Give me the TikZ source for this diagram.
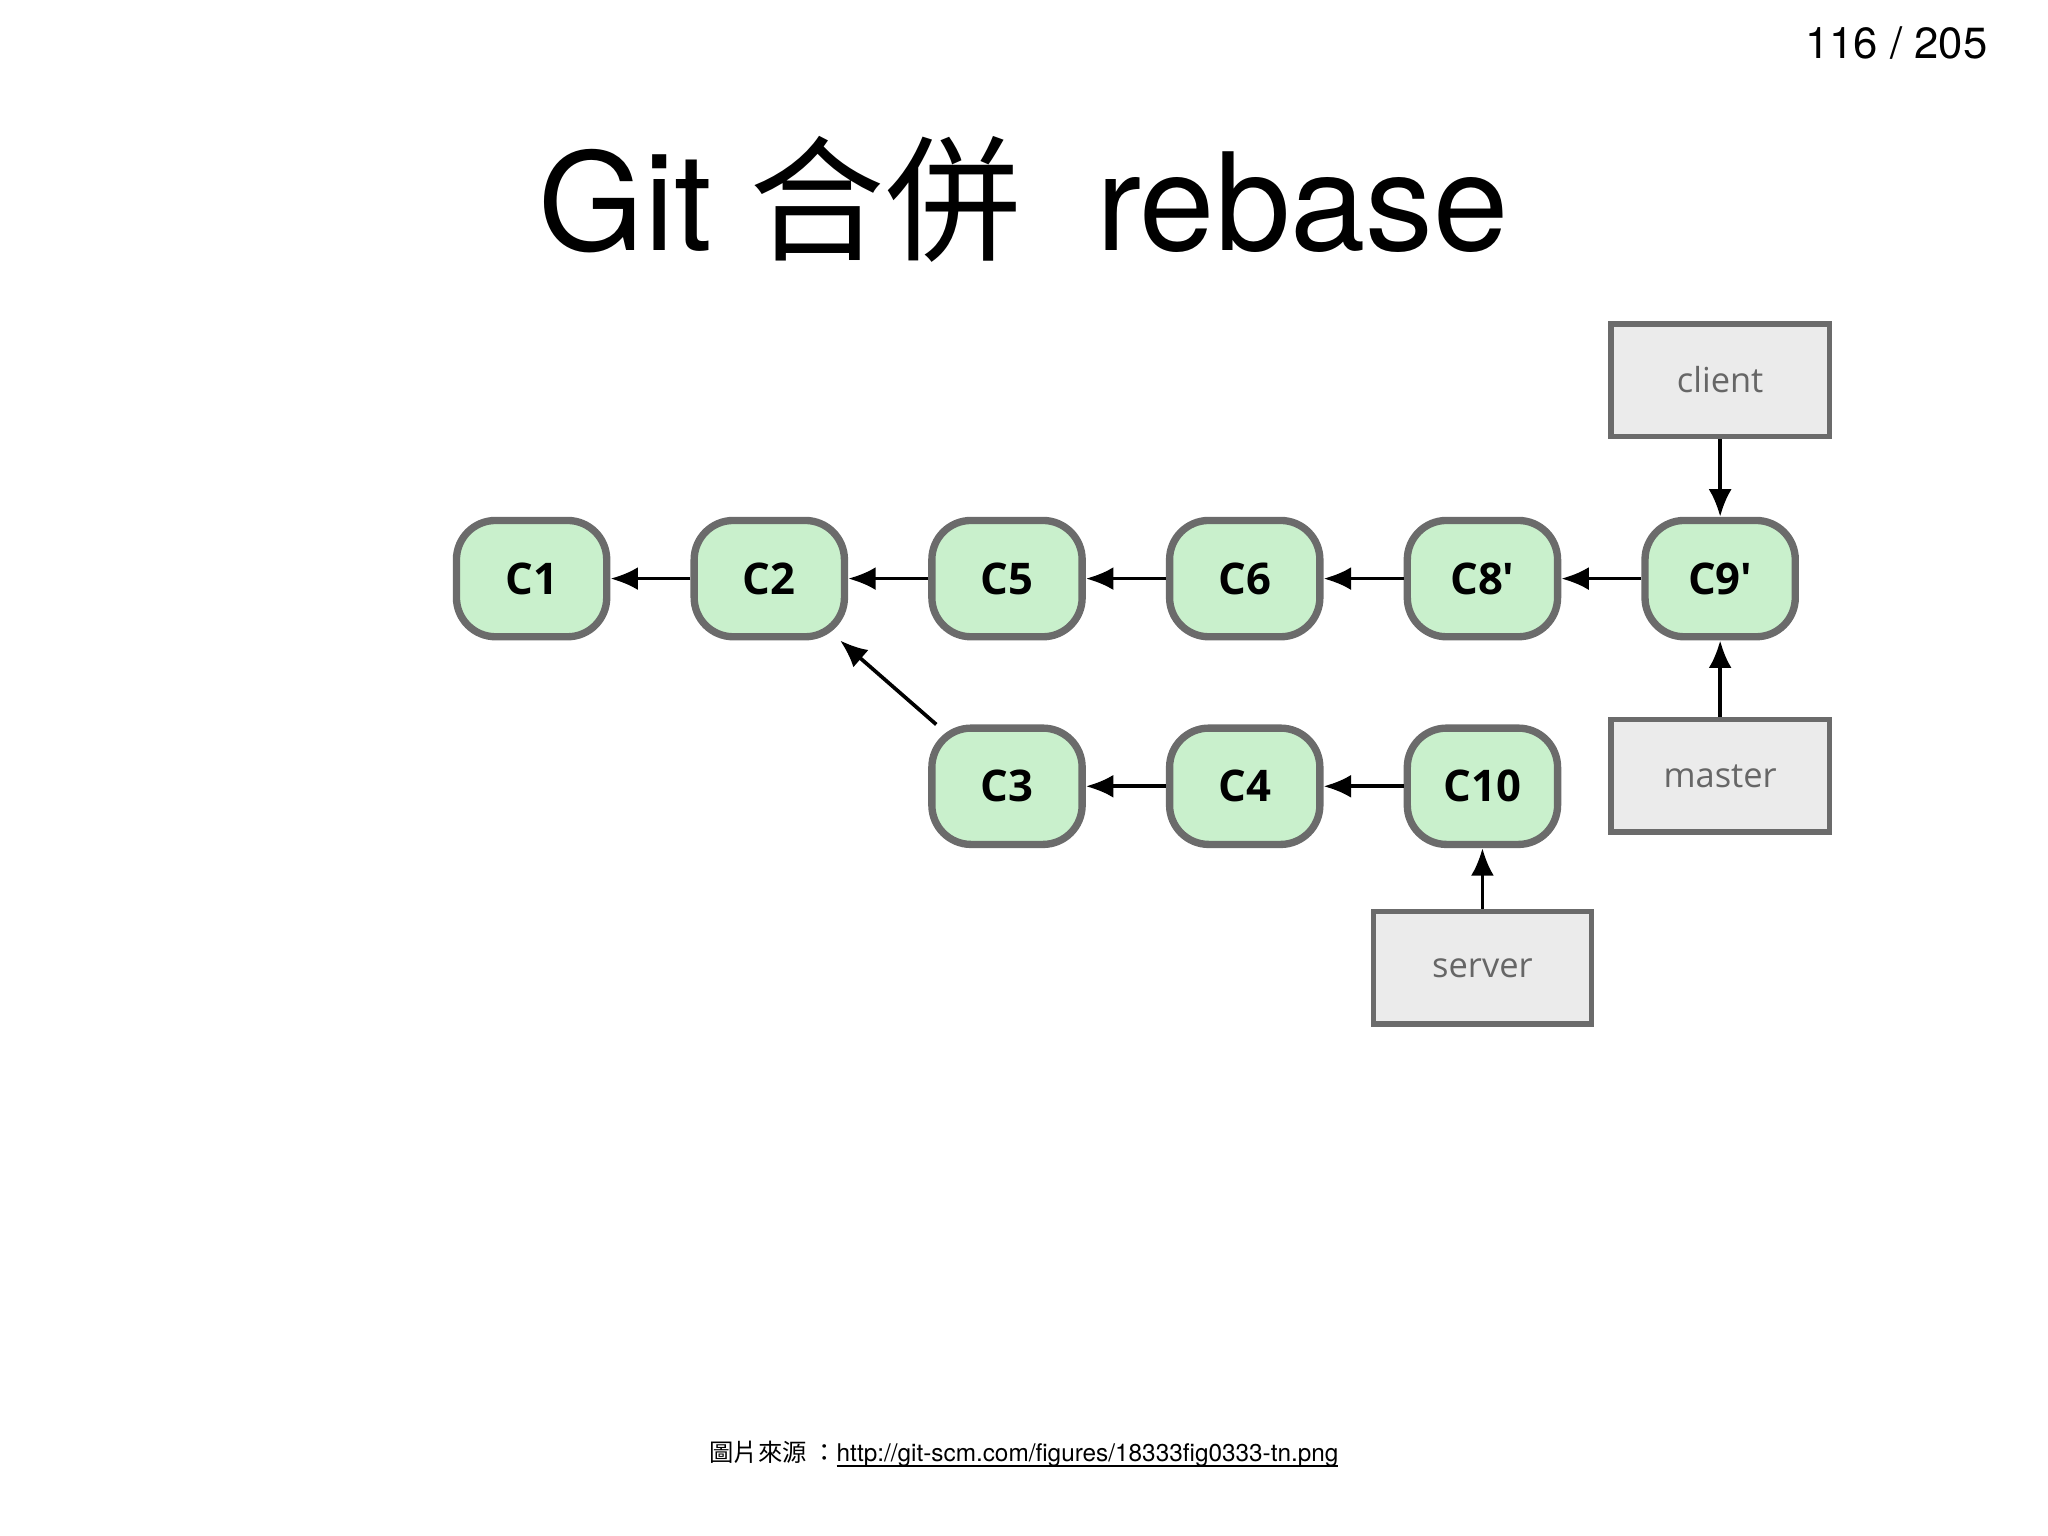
\documentclass[tikz,border=0pt]{standalone}
\usepackage{fontspec}
\setmainfont{TeX Gyre Heros}
\newfontfamily\cjk{Noto Sans CJK TC}
\newfontfamily\lbl{Open Sans}
\usetikzlibrary{arrows.meta}
\definecolor{cgreen}{HTML}{C9F0CC}
\definecolor{cborder}{HTML}{6B6B6B}
\definecolor{rgray}{HTML}{EBEBEB}
\tikzset{
  commit/.style={draw=cborder, line width=1.6pt, fill=cgreen, rounded corners=0.3cm,
    minimum width=1.15cm, minimum height=0.89cm, font=\lbl\bfseries\fontsize{9.5}{11}\selectfont},
  ref/.style={draw=cborder, line width=1.2pt, fill=rgray,
    minimum width=1.67cm, minimum height=0.86cm, text=black!60, font=\lbl\fontsize{7.5}{9}\selectfont},
  link/.style={-{Latex[length=6pt,width=5pt]}, line width=0.8pt}
}
\begin{document}
\begin{tikzpicture}[x=0.01cm, y=-0.01cm]
	\useasboundingbox (0,0) rectangle (1568,1176);
	\node[anchor=east, font=\fontsize{9.5}{11}\selectfont] (page) at (1534,33) {116 / 205};
	\node[font=\fontsize{29.5}{34}\selectfont] (title) at (784,153) {Git {\cjk 合併}\ \ rebase};
	% commits
	\node[commit] (c1) at (407,443) {C1};
	\node[commit] (c2) at (589,443) {C2};
	\node[commit] (c5) at (771,443) {C5};
	\node[commit] (c6) at (953,443) {C6};
	\node[commit] (c8) at (1135,443) {C8'};
	\node[commit] (c9) at (1317,443) {C9'};
	\node[commit] (c3) at (771,602) {C3};
	\node[commit] (c4) at (953,602) {C4};
	\node[commit] (c10) at (1135,602) {C10};
	% refs
	\node[ref] (client) at (1317,291) {client};
	\node[ref] (master) at (1317,594) {master};
	\node[ref] (server) at (1135,741) {server};
	\draw[link] (c2) -- (c1);
	\draw[link] (c5) -- (c2);
	\draw[link] (c6) -- (c5);
	\draw[link] (c8) -- (c6);
	\draw[link] (c9) -- (c8);
	\draw[link] (c3) -- (c2);
	\draw[link] (c4) -- (c3);
	\draw[link] (c10) -- (c4);
	\draw[link] (client) -- (c9);
	\draw[link] (master) -- (c9);
	\draw[link] (server) -- (c10);
	\node[font=\fontsize{5.3}{7}\selectfont] (src) at (784,1113) {{\cjk 圖片來源\ ：}\setbox0\hbox{http://git-scm.com/figures/18333fig0333-tn.png}\rlap{\rule[-1.2pt]{\wd0}{0.3pt}}\box0};
\end{tikzpicture}
\end{document}
